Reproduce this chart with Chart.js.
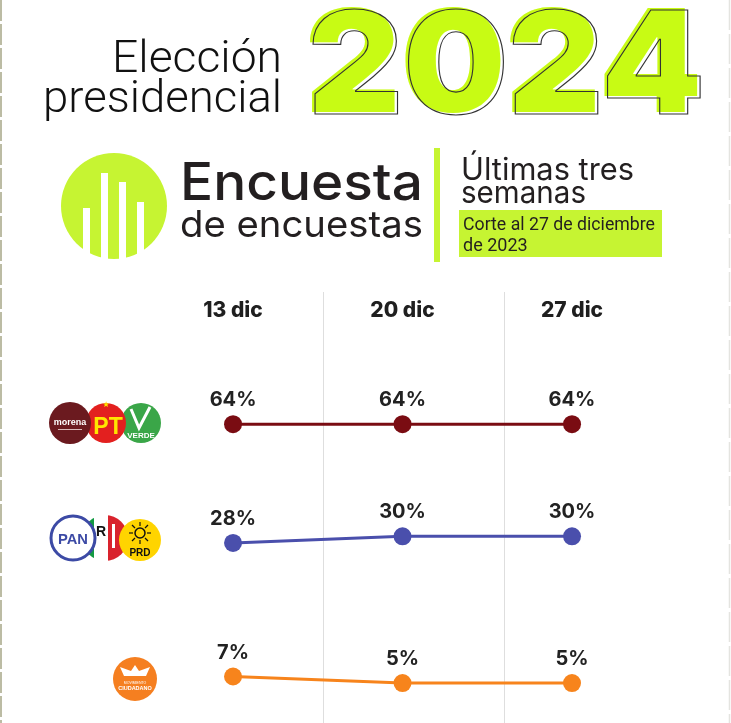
<!DOCTYPE html>
<html lang="es">
<head>
<meta charset="UTF-8">
<title>Encuesta de encuestas 2024</title>
<script src="https://cdn.jsdelivr.net/npm/chart.js"></script>
<style>
  body { margin: 0; background: #fff; }
  #page { position: relative; width: 731px; height: 723px; overflow: hidden; background: #fff; }
  #chart { position: absolute; left: 0; top: 282px; }
  #overlay { position: absolute; left: 0; top: 0; pointer-events: none; }
</style>
</head>
<body>
<div id="page">
  <canvas id="chart" width="731" height="441"></canvas>

  <svg id="overlay" width="731" height="723" xmlns="http://www.w3.org/2000/svg">
    <!-- page edges -->
    <line x1="1" y1="0" x2="1" y2="723" stroke="#bcbca4" stroke-width="2" stroke-dasharray="21 3"/>
    <line x1="729.5" y1="0" x2="729.5" y2="723" stroke="#e4e4e0" stroke-width="1.5" stroke-dasharray="30 4"/>

    <!-- title -->
    <text x="282" y="72" text-anchor="end" font-family="Roboto" font-weight="300" font-size="45" fill="#111" textLength="170" lengthAdjust="spacingAndGlyphs">Elección</text>
    <text x="282" y="112" text-anchor="end" font-family="Roboto" font-weight="300" font-size="45" fill="#111" textLength="239" lengthAdjust="spacingAndGlyphs">presidencial</text>
    <text x="305" y="112" font-family="Inter" font-weight="900" font-size="143" fill="#c8fb14" textLength="397" lengthAdjust="spacingAndGlyphs">2024</text>
    <text x="308" y="114" font-family="Inter" font-weight="900" font-size="143" fill="none" stroke="#333" stroke-width="1.1" textLength="397" lengthAdjust="spacingAndGlyphs">2024</text>

    <!-- logo -->
    <circle cx="114" cy="206" r="53" fill="#c6f432"/>
    <rect x="83" y="208" width="7" height="60" fill="#fff"/>
    <rect x="101" y="173" width="7" height="95" fill="#fff"/>
    <rect x="119" y="182" width="7" height="86" fill="#fff"/>
    <rect x="137" y="202" width="7" height="66" fill="#fff"/>
    <text x="180" y="200" font-family="Inter" font-weight="500" font-size="52" fill="#231f20" textLength="243" lengthAdjust="spacingAndGlyphs">Encuesta</text>
    <text x="180" y="237" font-family="Inter" font-weight="400" font-size="37" fill="#231f20" textLength="243" lengthAdjust="spacingAndGlyphs">de encuestas</text>
    <rect x="434" y="148" width="6" height="114" fill="#c6f432"/>
    <text x="461" y="180" font-family="Inter" font-weight="400" font-size="31" fill="#231f20" textLength="173" lengthAdjust="spacingAndGlyphs">Últimas tres</text>
    <text x="461" y="203" font-family="Inter" font-weight="400" font-size="31" fill="#231f20" textLength="125" lengthAdjust="spacingAndGlyphs">semanas</text>
    <rect x="459" y="210" width="203" height="47" fill="#c6f432"/>
    <text x="463" y="230" font-family="Roboto" font-weight="400" font-size="18" fill="#231f20" textLength="192" lengthAdjust="spacingAndGlyphs">Corte al 27 de diciembre</text>
    <text x="463" y="251" font-family="Roboto" font-weight="400" font-size="18" fill="#231f20">de 2023</text>

    <!-- Morena / PT / PVEM -->
    <circle cx="141" cy="423" r="20" fill="#3aa648"/>
    <path d="M131 409 L139 428 L150 407" fill="none" stroke="#fff" stroke-width="3"/>
    <text x="141" y="438" text-anchor="middle" font-family="Liberation Sans" font-weight="700" font-size="8" fill="#fff">VERDE</text>
    <circle cx="106" cy="423" r="20" fill="#e3201f"/>
    <text x="106" y="407" text-anchor="middle" font-family="DejaVu Sans" font-size="8" fill="#ffe600">★</text>
    <text x="108" y="434" text-anchor="middle" font-family="Liberation Sans" font-weight="700" font-size="23" fill="#ffe600">PT</text>
    <circle cx="70" cy="423" r="21" fill="#6b1a1f"/>
    <text x="70" y="425" text-anchor="middle" font-family="Liberation Sans" font-weight="700" font-size="9" fill="#fff">morena</text>
    <rect x="58" y="429" width="24" height="1" fill="#d9b8b8"/>

    <!-- PAN / PRI / PRD -->
    <clipPath id="priClip"><circle cx="105" cy="538" r="23"/></clipPath>
    <g clip-path="url(#priClip)">
      <rect x="82" y="515" width="12" height="46" fill="#139a43"/>
      <rect x="94" y="515" width="14" height="46" fill="#fff"/>
      <rect x="108" y="515" width="20" height="46" fill="#d9232d"/>
    </g>
    <text x="101" y="536" text-anchor="middle" font-family="Liberation Sans" font-weight="700" font-size="14" fill="#111">R</text>
    <rect x="112" y="524" width="3" height="24" fill="#fff"/>
    <circle cx="73" cy="538" r="22" fill="#fff" stroke="#3c4aa5" stroke-width="3"/>
    <text x="73" y="544" text-anchor="middle" font-family="Liberation Sans" font-weight="700" font-size="15" fill="#3c4aa5" textLength="30" lengthAdjust="spacingAndGlyphs">PAN</text>
    <circle cx="140" cy="540" r="21" fill="#ffd400"/>
    <circle cx="140" cy="533" r="5" fill="none" stroke="#111" stroke-width="1.5"/>
    <g stroke="#111" stroke-width="1.2">
      <line x1="140" y1="522" x2="140" y2="526"/><line x1="140" y1="540" x2="140" y2="544"/>
      <line x1="129" y1="533" x2="133" y2="533"/><line x1="147" y1="533" x2="151" y2="533"/>
      <line x1="132" y1="525" x2="135" y2="528"/><line x1="145" y1="538" x2="148" y2="541"/>
      <line x1="148" y1="525" x2="145" y2="528"/><line x1="135" y1="538" x2="132" y2="541"/>
    </g>
    <text x="140" y="556" text-anchor="middle" font-family="Liberation Sans" font-weight="700" font-size="10" fill="#111">PRD</text>

    <!-- Movimiento Ciudadano -->
    <circle cx="135" cy="679" r="22" fill="#f57f20"/>
    <path d="M120 667 L131 671 L135 665 L139 671 L150 667 L146 676 L124 676 Z" fill="#fff"/>
    <text x="135" y="684" text-anchor="middle" font-family="Liberation Sans" font-size="3.5" fill="#fff">MOVIMIENTO</text>
    <text x="135" y="690" text-anchor="middle" font-family="Liberation Sans" font-weight="700" font-size="5.5" fill="#fff">CIUDADANO</text>
  </svg>
</div>

<script>
// survey dates and coalition shares (%)
const dates = ['13 dic', '20 dic', '27 dic'];
const morenaPtVerde = [64, 64, 64];
const panPriPrd = [28, 30, 30];
const movimientoCiudadano = [7, 5, 5];

// light vertical separators, in x-axis units
const gridAt = [0.53, 1.6];
const gridTop = 10;

// axis ranges: the two big coalitions share an axis, MC sits on its own band
const xMin = -1.375, xMax = 2.938;
const mainMin = -26.6, mainMax = 91.6;
const mcMin = -7.1, mcMax = 111.1;

const toPoints = arr => arr.map((v, i) => ({ x: i, y: v }));

const separators = {
    id: 'separators',
    beforeDatasetsDraw(chart) {
        const ctx = chart.ctx;
        ctx.save();
        ctx.strokeStyle = '#dedede';
        ctx.lineWidth = 1;
        gridAt.forEach(g => {
            const x = Math.round(chart.scales.x.getPixelForValue(g)) + 0.5;
            ctx.beginPath();
            ctx.moveTo(x, gridTop);
            ctx.lineTo(x, chart.height);
            ctx.stroke();
        });
        ctx.restore();
    }
};

const valueLabels = {
    id: 'valueLabels',
    afterDatasetsDraw(chart) {
        const ctx = chart.ctx;
        ctx.save();
        ctx.font = '700 20px Inter';
        ctx.fillStyle = '#222';
        ctx.textAlign = 'center';
        ctx.textBaseline = 'alphabetic';
        chart.data.datasets.forEach((ds, di) => {
            chart.getDatasetMeta(di).data.forEach((pt, i) => {
                ctx.fillText(ds.data[i].y + '%', pt.x, pt.y - 18);
            });
        });
        ctx.restore();
    }
};

function series(label, values, color, axis) {
    return {
        label,
        data: toPoints(values),
        yAxisID: axis,
        borderColor: color,
        backgroundColor: color,
        borderWidth: 3,
        pointRadius: 9,
        pointBorderWidth: 0,
        pointBackgroundColor: color,
        tension: 0,
        clip: false
    };
}

new Chart(document.getElementById('chart').getContext('2d'), {
    type: 'line',
    data: {
        datasets: [
            series('Morena-PT-PVEM', morenaPtVerde, '#7a0c12', 'yMain'),
            series('PAN-PRI-PRD', panPriPrd, '#4a4fac', 'yMain'),
            series('Movimiento Ciudadano', movimientoCiudadano, '#f7841c', 'yMC')
        ]
    },
    options: {
        responsive: false,
        animation: false,
        layout: { autoPadding: false, padding: { top: 6, left: 0, right: 0, bottom: 0 } },
        plugins: { legend: { display: false }, tooltip: { enabled: false } },
        scales: {
            x: {
                type: 'linear',
                position: 'top',
                min: xMin,
                max: xMax,
                afterBuildTicks: s => { s.ticks = dates.map((_, i) => ({ value: i })); },
                ticks: {
                    callback: v => dates[v],
                    font: { family: 'Inter', weight: '800', size: 21 },
                    color: '#1f1f1f',
                    padding: 10,
                    maxRotation: 0,
                    autoSkip: false
                },
                grid: { display: false, drawTicks: false },
                border: { display: false }
            },
            yMain: { display: false, min: mainMin, max: mainMax },
            yMC: { display: false, min: mcMin, max: mcMax }
        }
    },
    plugins: [separators, valueLabels]
});
</script>
</body>
</html>
